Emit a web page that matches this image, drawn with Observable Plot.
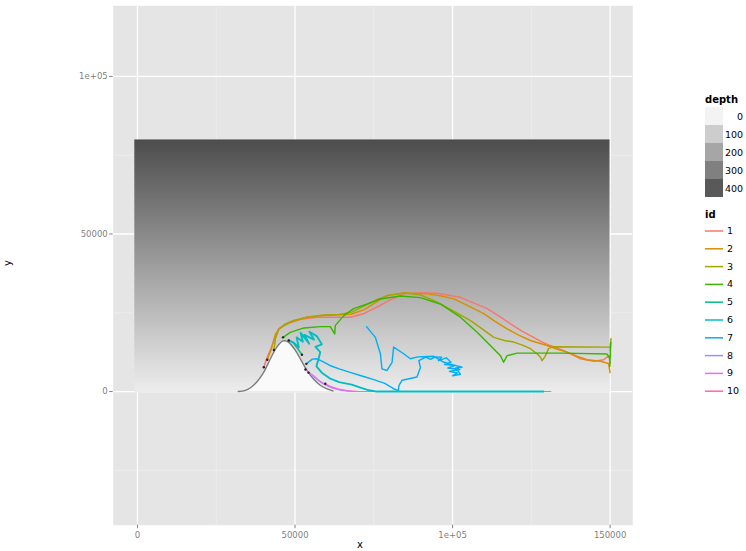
<!DOCTYPE html>
<html><head><meta charset="utf-8">
<script src="https://cdn.jsdelivr.net/npm/d3@7"></script>
<script src="https://cdn.jsdelivr.net/npm/@observablehq/plot@0.6"></script>
<style>
body{margin:0;background:#fff;}
#wrap{position:relative;width:746px;height:551px;font-family:"DejaVu Sans",sans-serif;}
.t{position:absolute;white-space:nowrap;line-height:1;}
#leg{position:absolute;left:0;top:0;pointer-events:none;}
</style></head><body><div id="wrap"></div>
<script>
// ---- data ----
const xTicks = [0, 50000, 100000, 150000];
const yTicks = [0, 50000, 100000];
const xMinor = [25000, 75000, 125000];
const yMinor = [-25000, 25000, 75000];
const tickLabels = {0: "0", 50000: "50000", 100000: "1e+05", 150000: "150000"};

// depth field samples (y level -> depth)
const depthY = [-300, 10000, 20000, 30000, 40000, 50000, 60000, 70000, 80000];
const depthV = [15, 65, 118, 170, 222, 275, 328, 380, 432];
const depthLegend = [0, 100, 200, 300, 400];

// seamount profile
const seaX = [32000, 34000, 36000, 38000, 40000, 42000, 44000, 46000, 47000, 48000, 50000, 52000, 54000, 56000, 58000, 60000, 62000];
const seaY = [0, 300, 1300, 3200, 6000, 10000, 13800, 16000, 16100, 15600, 13200, 9800, 6400, 3800, 2000, 900, 200];

const ids = [1, 2, 3, 4, 5, 6, 7, 8, 9, 10];
const idColors = ["#F8766D", "#D89000", "#A3A500", "#39B600", "#00BF7D", "#00BFC4", "#00B0F6", "#9590FF", "#E76BF3", "#FF62BC"];

const track1 = [[40100,7700],[41000,10500],[42300,13500],[43300,16200],[44800,19900],[47500,21500],[51700,22900],[57000,23600],[62300,23600],[67600,23600],[71800,24700],[76000,26800],[80000,29000],[84500,31000],[90000,31400],[95100,31200],[102500,29900],[107000,28000],[111000,26300],[115000,23800],[118400,21500],[122000,19200],[125700,17200],[128500,15700],[131000,14600],[135300,13000],[138000,11700],[140600,10400],[144800,9600],[148000,10100],[149600,11400],[150000,9000]];
const track2 = [[41200,10100],[42500,13500],[43800,18300],[45400,20400],[48500,22000],[53800,23600],[59100,24100],[64400,24400],[68000,24600],[72000,26000],[75500,28200],[79200,30500],[84400,31300],[91900,31000],[96000,30400],[100400,29400],[105000,27200],[109900,24700],[113500,22300],[117300,19900],[121000,17900],[124700,16200],[130000,14600],[133000,13500],[136300,12500],[139500,11200],[142700,10100],[146900,9600],[149500,8900],[150000,6000],[149700,7500]];
const track3 = [[43300,13200],[43800,16800],[44800,19600],[46500,21200],[49500,22600],[54000,23700],[59000,24300],[64000,24500],[68000,25200],[72000,27200],[76000,29200],[80000,30600],[85000,31300],[90000,30600],[94000,28900],[97200,27300],[101500,24900],[105700,22500],[109500,19800],[113100,17200],[116500,16200],[119400,15700],[122000,14800],[124700,13600],[126800,12000],[127900,10900],[128400,9800],[129300,11000],[130500,13700],[132000,14200],[150000,14100],[150300,16800],[150000,13000]];
const track4 = [[46200,17200],[48500,18800],[52800,20200],[58100,20600],[61200,20600],[62600,18300],[62800,21000],[65500,24100],[68600,26300],[72900,27800],[77100,29400],[83500,30300],[89800,29800],[96100,27800],[102500,23600],[107800,18800],[112000,14600],[115200,11400],[116200,9300],[117300,11400],[120500,12200],[135000,12200],[149000,11900],[150000,10500],[150200,15500],[149900,8000],[150100,12500]];
const track5 = [[52200,11700],[50800,13700],[49300,15600],[48000,16400]];
const track6 = [[48000,16200],[49600,15500],[51200,14000],[50500,17200],[52500,15800],[51800,18600],[54500,15200],[53000,18000],[56000,16500],[54600,19000],[57000,17500],[58500,15000],[56500,14200],[58000,12500],[57500,10500],[56800,8000],[58500,6000],[61000,4200],[64000,3000],[68000,2200],[71000,1200],[73500,400],[76000,0],[100000,0],[128800,0]];
const track7 = [[53600,8800],[55500,10300],[57000,10400],[59000,9400],[61500,8100],[64000,7200],[67500,6100],[71000,5000],[75000,3800],[78500,2600],[81300,900],[82800,300],[83000,2000],[84000,3600],[88700,4600],[89800,7600],[89300,9800],[91500,10900],[93000,10200],[94500,11000],[96500,10900],[95500,9800],[98000,10700],[99500,9300],[97500,8600],[101000,8300],[98500,7500],[102300,7000],[99000,6400],[101500,5900],[100000,5000],[102500,5500],[101000,7500],[103000,7700],[100500,8400],[97000,9400],[94000,11200],[89000,11000],[86600,10400],[84500,12000],[81300,14100],[80800,9300],[79200,6700],[77600,7200],[77100,12000],[75500,17200],[72700,20600]];
const track8 = [[54300,6000],[55500,5000],[57000,3800],[59000,2400],[61500,1200],[64500,400],[68000,0],[80000,0]];
const track9 = [[53300,7000],[54500,6000],[56000,5000],[57500,3600],[59500,2300],[62000,1200],[65000,400],[68000,0],[76000,0]];
const track10 = [[59600,2500],[61000,1800],[63500,900],[66500,300],[70000,0],[100000,0],[131200,0]];
const tracks = [track1, track2, track3, track4, track5, track6, track7, track8, track9, track10];
// draw the near-bottom tracks beneath the cyan one
const drawOrder = [0, 1, 2, 3, 4, 9, 7, 8, 6, 5];
const widths = [1.45, 1.45, 1.45, 1.45, 1.45, 1.9, 1.45, 1.1, 1.1, 1.1];

// ---- build ----
const rasterPts = [];
depthY.forEach((y, i) => { rasterPts.push({x: -1000, y, depth: depthV[i]}); rasterPts.push({x: 149800, y, depth: depthV[i]}); });
const sea = seaX.map((x, i) => ({x, y: seaY[i]}));
const fmt = d => tickLabels[d] ?? String(d);

const lineMarks = drawOrder.map(i =>
  Plot.line(tracks[i], {x: d => d[0], y: d => d[1], stroke: idColors[i], strokeWidth: widths[i], strokeLinejoin: "round"}));
const startDots = tracks.map(tr => ({x: tr[0][0], y: tr[0][1]}));

const chart = Plot.plot({
  width: 746, height: 551,
  marginLeft: 112.7, marginRight: 113.7, marginTop: 5.3, marginBottom: 26.3,
  style: {background: "transparent", fontFamily: "DejaVu Sans, sans-serif"},
  x: {domain: [-7700, 157200]},
  y: {domain: [-42400, 122400]},
  color: {type: "linear", domain: [0, 432], range: ["#f3f3f3", "#4d4d4d"]},
  marks: [
    Plot.frame({fill: "#e5e5e5", stroke: null}),
    Plot.gridX(xMinor, {stroke: "#f2f2f2", strokeOpacity: 1, strokeWidth: 0.6}),
    Plot.gridY(yMinor, {stroke: "#f2f2f2", strokeOpacity: 1, strokeWidth: 0.6}),
    Plot.gridX(xTicks, {stroke: "#ffffff", strokeOpacity: 1, strokeWidth: 1.3}),
    Plot.gridY(yTicks, {stroke: "#ffffff", strokeOpacity: 1, strokeWidth: 1.3}),
    Plot.raster(rasterPts, {x: "x", y: "y", fill: "depth", x1: -1000, x2: 149800, y1: -300, y2: 80000, interpolate: "barycentric"}),
    Plot.areaY(sea, {x: "x", y: "y", fill: "#fafafa", curve: "catmull-rom"}),
    Plot.line(sea, {x: "x", y: "y", stroke: "#7a7a7a", strokeWidth: 1.4, curve: "catmull-rom"}),
    ...lineMarks,
    Plot.dot(startDots, {x: "x", y: "y", r: 1.2, fill: "#222", stroke: null}),
    Plot.axisX({ticks: xTicks, tickFormat: fmt, tickSize: 3.5, tickPadding: 3, fontSize: 8.5, color: "#7f7f7f", label: null}),
    Plot.axisY({ticks: yTicks, tickFormat: fmt, tickSize: 3.5, tickPadding: 2, fontSize: 8.5, color: "#7f7f7f", label: null})
  ]
});
const wrap = document.getElementById("wrap");
wrap.appendChild(chart);

function addText(txt, left, top, css) {
  const d = document.createElement("div");
  d.className = "t"; d.textContent = txt;
  d.style.left = left + "px"; d.style.top = top + "px";
  Object.assign(d.style, css || {});
  wrap.appendChild(d); return d;
}
addText("x", 357, 540, {fontSize: "10px", color: "#000"});
addText("y", 5, 258, {fontSize: "10px", color: "#000", transform: "rotate(-90deg)"});

// legend drawn in an overlay svg
const NS = "http://www.w3.org/2000/svg";
const leg = document.createElementNS(NS, "svg");
leg.setAttribute("id", "leg"); leg.setAttribute("width", 746); leg.setAttribute("height", 551);
wrap.appendChild(leg);
const cs = chart.scale("color");
addText("depth", 705, 95, {fontSize: "10px", fontWeight: "bold", color: "#000"});
depthLegend.forEach((v, i) => {
  const r = document.createElementNS(NS, "rect");
  r.setAttribute("x", 705); r.setAttribute("y", 107 + i * 18);
  r.setAttribute("width", 18); r.setAttribute("height", 18);
  r.setAttribute("fill", cs.apply(v));
  leg.appendChild(r);
  addText(String(v), 725, 107 + i * 18 + 4.5, {fontSize: "9.5px", color: "#000", width: "18px", textAlign: "right"});
});
addText("id", 705, 210, {fontSize: "10px", fontWeight: "bold", color: "#000"});
ids.forEach((id, i) => {
  const cy = 231 + i * 17.8;
  const l = document.createElementNS(NS, "line");
  l.setAttribute("x1", 705); l.setAttribute("x2", 723);
  l.setAttribute("y1", cy); l.setAttribute("y2", cy);
  l.setAttribute("stroke", idColors[i]); l.setAttribute("stroke-width", 1.5);
  leg.appendChild(l);
  addText(String(id), 727, cy - 5, {fontSize: "9.5px", color: "#000"});
});
</script></body></html>
